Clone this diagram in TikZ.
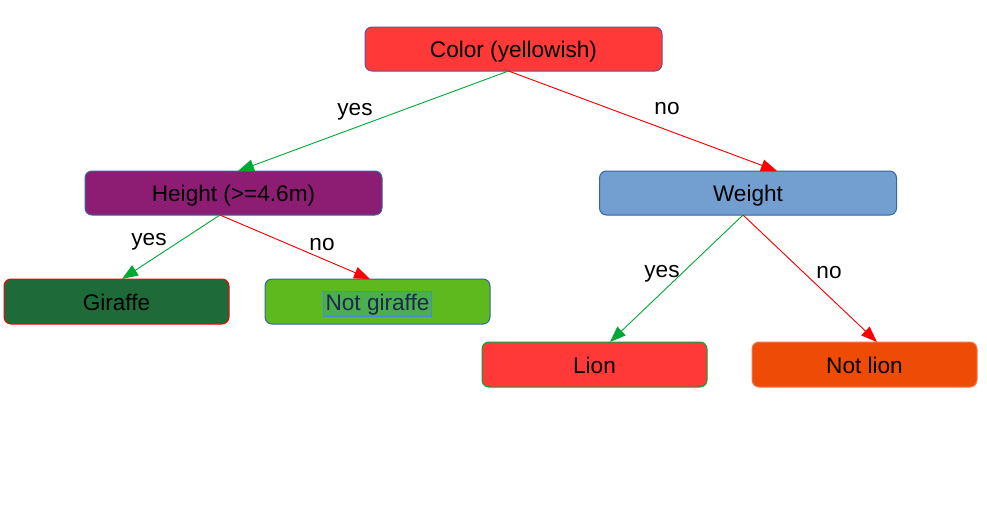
\documentclass[tikz,border=0pt]{standalone}
\usepackage{fontspec}
\setmainfont{Liberation Sans}
\usetikzlibrary{positioning, arrows.meta}

\definecolor{rootred}{HTML}{FF3838}
\definecolor{rootedge}{HTML}{6A4C9C}
\definecolor{plum}{HTML}{8D1D72}
\definecolor{skyblue}{HTML}{729FCF}
\definecolor{navyedge}{HTML}{3465A4}
\definecolor{darkgreen}{HTML}{1E6A39}
\definecolor{leafgreen}{HTML}{5EB91E}
\definecolor{textgreen}{HTML}{4DAE50}
\definecolor{framebl}{HTML}{3C8FD9}
\definecolor{navytext}{HTML}{1A2A4A}
\definecolor{yesgreen}{HTML}{00A933}
\definecolor{nored}{HTML}{FF0000}
\definecolor{orange}{HTML}{EE4C06}
\definecolor{orangeedge}{HTML}{F8774A}

\begin{document}
\begin{tikzpicture}[x=1pt,y=-1pt,font=\fontsize{22.6}{27}\selectfont]
    \tikzstyle{decision} = [rectangle,rounded corners=7pt,minimum width=297pt,minimum height=44pt,text height=17pt,text depth=0pt,text centered,line width=1pt,outer sep=0pt]
    \tikzstyle{leaf} = [rectangle,rounded corners=7pt,minimum width=225pt,minimum height=45pt,text height=17pt,text depth=0pt,text centered,line width=1pt,outer sep=0pt]
    \tikzstyle{answer} = [anchor=base,inner sep=0pt]
    \tikzstyle{yes} = [draw=yesgreen,line width=0.9pt,-{Triangle[length=16pt,width=12pt]}]
    \tikzstyle{no} = [draw=nored,fill=nored,line width=0.9pt,-{Triangle[length=16pt,width=12pt]}]

    \useasboundingbox (0,0) rectangle (987,528);

    \node (color) [decision, draw=rootedge, fill=rootred] at (513.5,49) {Color (yellowish)};

    \node (height) [decision, draw=navyedge, fill=plum, below=100pt of color, xshift=-280pt] {Height (>=4.6m)};
    \node (weight) [decision, draw=navyedge, fill=skyblue, below=100pt of color, xshift=234.5pt] {Weight};

    \node (giraffe) [leaf, draw=nored, fill=darkgreen, below=64pt of height, xshift=-117pt] {Giraffe};
    \node (notgiraffe) [leaf, draw=navyedge, fill=leafgreen, below=64pt of height, xshift=144pt]
        {\setlength{\fboxsep}{1.2pt}\setlength{\fboxrule}{1pt}\fcolorbox{framebl}{textgreen}{\color{navytext}Not giraffe}};

    \node (lion) [leaf, draw=yesgreen, fill=rootred, below=127pt of weight, xshift=-153.5pt] {Lion};
    \node (notlion) [leaf, draw=orangeedge, fill=orange, below=127pt of weight, xshift=116.5pt] {Not lion};

    \draw [yes] ([xshift=-5pt]color.south) -- ([xshift=4.5pt]height.north);
    \draw [no] ([xshift=-5pt]color.south) -- ([xshift=29pt]weight.north);
    \draw [yes] ([xshift=-13.5pt]height.south) -- ([xshift=5.5pt]giraffe.north);
    \draw [no] ([xshift=-13.5pt]height.south) -- ([xshift=-7.5pt]notgiraffe.north);
    \draw [yes] ([xshift=-5pt]weight.south) -- ([xshift=15.5pt]lion.north);
    \draw [no] ([xshift=-5pt]weight.south) -- ([xshift=12.5pt]notlion.north);

    \node (yestop) [answer] at (355,115) {yes};
    \node (notop) [answer] at (667,114) {no};
    \node (yesheight) [answer] at (149,245) {yes};
    \node (noheight) [answer] at (322,250) {no};
    \node (yesweight) [answer] at (662,277) {yes};
    \node (noweight) [answer] at (829,278) {no};

\end{tikzpicture}
\end{document}
